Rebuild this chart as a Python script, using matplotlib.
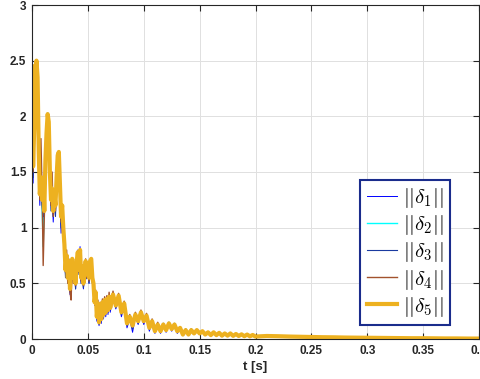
import numpy as np
import matplotlib
matplotlib.use('Agg')
import matplotlib.pyplot as plt

plt.rcParams['mathtext.fontset'] = 'cm'
plt.rcParams['font.family'] = ['Liberation Sans', 'DejaVu Sans']

# time grid: fine at start, coarser later
t = np.concatenate([np.arange(0, 0.0705, 0.001),
                    np.arange(0.0725, 0.2001, 0.0025),
                    np.arange(0.21, 0.4001, 0.01)])

tail = [0.027, 0.025, 0.022, 0.02, 0.018, 0.016, 0.015, 0.013, 0.012, 0.011,
        0.01, 0.009, 0.008, 0.007, 0.007, 0.006, 0.005, 0.005, 0.004, 0.004]

d1 = [2.2, 1.4, 1.95, 2.06, 2.3, 2.1, 1.5, 1.2, 1.5, 1.3, 1.0, 1.2, 1.65, 1.85, 1.9, 1.8, 1.4, 1.2, 1.3, 1.05,
      1.25, 1.15, 1.35, 1.55, 1.5, 1.25, 0.95, 1.1, 0.9, 0.8, 0.58, 0.7, 0.52, 0.68, 0.4, 0.55, 0.68, 0.5, 0.6, 0.45,
      0.72, 0.8, 0.6, 0.83, 0.5, 0.6, 0.45, 0.55, 0.68, 0.55, 0.62, 0.5, 0.66, 0.68, 0.5,
      0.45, 0.3, 0.38, 0.16, 0.28, 0.12, 0.26, 0.14, 0.3, 0.18, 0.3, 0.2, 0.32, 0.22, 0.34, 0.24,
      0.38, 0.27, 0.36, 0.2, 0.3, 0.1, 0.18, 0.06, 0.2, 0.13, 0.22, 0.13, 0.2, 0.07, 0.15, 0.05, 0.12, 0.05, 0.12, 0.06,
      0.13, 0.07, 0.12, 0.05, 0.09, 0.03, 0.07, 0.03, 0.07, 0.04, 0.07, 0.04, 0.065, 0.035, 0.055, 0.03, 0.055, 0.03, 0.05, 0.025,
      0.045, 0.025, 0.045, 0.024, 0.04, 0.023, 0.038, 0.022, 0.036, 0.021, 0.033, 0.02] + tail

d2 = [2.4, 1.5, 1.9, 2.3, 2.51, 2.3, 1.65, 1.3, 1.45, 1.2, 0.83, 1.2, 1.55, 1.85, 2.03, 1.9, 1.45, 1.25, 1.3, 1.15,
      1.25, 1.2, 1.4, 1.6, 1.65, 1.35, 1.05, 1.2, 0.95, 0.85, 0.6, 0.75, 0.55, 0.7, 0.45, 0.6, 0.72, 0.55, 0.65, 0.5,
      0.7, 0.76, 0.6, 0.79, 0.55, 0.65, 0.5, 0.6, 0.7, 0.58, 0.68, 0.55, 0.7, 0.72, 0.55,
      0.5, 0.33, 0.42, 0.2, 0.32, 0.15, 0.3, 0.18, 0.33, 0.22, 0.35, 0.24, 0.36, 0.26, 0.38, 0.28,
      0.41, 0.3, 0.39, 0.25, 0.33, 0.15, 0.21, 0.12, 0.23, 0.16, 0.25, 0.16, 0.22, 0.1, 0.17, 0.07, 0.14, 0.07, 0.14, 0.08,
      0.15, 0.09, 0.14, 0.07, 0.11, 0.04, 0.09, 0.04, 0.09, 0.05, 0.085, 0.05, 0.075, 0.04, 0.065, 0.035, 0.065, 0.035, 0.06, 0.03,
      0.055, 0.03, 0.05, 0.028, 0.046, 0.027, 0.043, 0.025, 0.041, 0.024, 0.037, 0.022] + tail

d3 = [2.35, 1.45, 1.8, 2.1, 2.4, 2.2, 1.6, 1.25, 1.4, 1.2, 1.1, 1.1, 1.55, 1.8, 1.9, 1.85, 1.45, 1.15, 1.3, 1.1,
      1.25, 1.1, 1.4, 1.55, 1.6, 1.3, 1.0, 1.1, 0.9, 0.75, 0.55, 0.72, 0.5, 0.68, 0.42, 0.55, 0.7, 0.52, 0.62, 0.45,
      0.68, 0.74, 0.58, 0.76, 0.5, 0.62, 0.46, 0.56, 0.68, 0.54, 0.64, 0.5, 0.66, 0.7, 0.5,
      0.47, 0.31, 0.4, 0.18, 0.3, 0.13, 0.28, 0.16, 0.31, 0.2, 0.33, 0.22, 0.34, 0.24, 0.36, 0.26,
      0.39, 0.28, 0.37, 0.22, 0.31, 0.12, 0.19, 0.09, 0.21, 0.14, 0.23, 0.15, 0.2, 0.09, 0.15, 0.06, 0.12, 0.06, 0.12, 0.07,
      0.13, 0.08, 0.12, 0.06, 0.095, 0.035, 0.075, 0.035, 0.075, 0.045, 0.075, 0.045, 0.065, 0.038, 0.058, 0.032, 0.058, 0.032, 0.052, 0.028,
      0.048, 0.028, 0.047, 0.026, 0.043, 0.025, 0.04, 0.024, 0.038, 0.022, 0.035, 0.021] + tail

d4 = [2.3, 1.5, 1.85, 2.2, 2.4, 2.2, 1.6, 1.25, 1.8, 1.35, 0.66, 1.1, 1.5, 1.8, 1.95, 1.85, 1.45, 1.2, 1.5, 1.1,
      1.25, 1.15, 1.4, 1.6, 1.6, 1.35, 1.05, 1.15, 0.95, 0.8, 0.6, 0.8, 0.5, 0.72, 0.42, 0.35, 0.7, 0.5, 0.62, 0.48,
      0.68, 0.75, 0.6, 0.78, 0.52, 0.62, 0.48, 0.58, 0.72, 0.55, 0.65, 0.52, 0.68, 0.7, 0.52,
      0.52, 0.36, 0.44, 0.22, 0.35, 0.14, 0.33, 0.21, 0.36, 0.25, 0.38, 0.27, 0.39, 0.29, 0.42, 0.31,
      0.43, 0.31, 0.41, 0.26, 0.34, 0.16, 0.22, 0.13, 0.24, 0.17, 0.26, 0.17, 0.23, 0.11, 0.18, 0.08, 0.15, 0.08, 0.14, 0.09,
      0.15, 0.1, 0.14, 0.08, 0.11, 0.05, 0.09, 0.05, 0.09, 0.055, 0.085, 0.055, 0.075, 0.045, 0.065, 0.04, 0.065, 0.04, 0.06, 0.035,
      0.055, 0.032, 0.052, 0.03, 0.048, 0.028, 0.045, 0.026, 0.042, 0.025, 0.038, 0.023] + tail

d5 = [2.45, 1.55, 1.9, 2.3, 2.5, 2.35, 1.7, 1.3, 1.45, 1.25, 1.45, 1.15, 1.6, 1.85, 2.02, 1.95, 1.5, 1.25, 1.35, 1.15,
      1.3, 1.2, 1.45, 1.65, 1.68, 1.4, 1.1, 1.2, 1.0, 0.85, 0.62, 0.75, 0.55, 0.7, 0.45, 0.6, 0.72, 0.55, 0.65, 0.5,
      0.7, 0.78, 0.62, 0.8, 0.55, 0.65, 0.5, 0.6, 0.7, 0.58, 0.68, 0.55, 0.7, 0.72, 0.55,
      0.5, 0.33, 0.42, 0.2, 0.32, 0.15, 0.3, 0.18, 0.33, 0.22, 0.35, 0.24, 0.36, 0.26, 0.38, 0.28,
      0.4, 0.3, 0.39, 0.24, 0.32, 0.14, 0.2, 0.12, 0.22, 0.16, 0.24, 0.16, 0.21, 0.1, 0.16, 0.07, 0.13, 0.07, 0.13, 0.08,
      0.14, 0.09, 0.13, 0.07, 0.1, 0.04, 0.08, 0.04, 0.08, 0.05, 0.08, 0.05, 0.07, 0.04, 0.06, 0.035, 0.06, 0.035, 0.055, 0.03,
      0.05, 0.03, 0.05, 0.028, 0.045, 0.027, 0.042, 0.025, 0.04, 0.024, 0.036, 0.022] + tail

labels = [r'$||\delta_1||$', r'$||\delta_2||$', r'$||\delta_3||$', r'$||\delta_4||$', r'$||\delta_5||$']
colors = ['#0000ff', '#00ffff', '#1a3aa0', '#a2522d', '#edb120']
widths = [0.7, 1.0, 0.8, 1.0, 3.0]

fig = plt.figure(figsize=(4.8, 3.79), dpi=100)
ax = fig.add_axes([32 / 480, 1 - 339 / 379, 447 / 480, 334 / 379])

for y, lab, c, w in zip([d1, d2, d3, d4, d5], labels, colors, widths):
    ax.plot(t, y, color=c, linewidth=w, label=lab)

ax.set_xlim(0, 0.4)
ax.set_ylim(0, 3)
ax.set_xticks(np.arange(0, 0.401, 0.05))
ax.set_xticklabels(['0', '0.05', '0.1', '0.15', '0.2', '0.25', '0.3', '0.35', '0.4'])
ax.set_yticks(np.arange(0, 3.01, 0.5))
ax.set_yticklabels(['0', '0.5', '1', '1.5', '2', '2.5', '3'])
ax.tick_params(direction='in', top=True, right=True, length=4, width=0.8,
               labelsize=8.5, colors='#262626', pad=4)
for lbl in ax.get_xticklabels() + ax.get_yticklabels():
    lbl.set_fontweight('bold')
for s in ax.spines.values():
    s.set_color('#262626')
    s.set_linewidth(0.8)
ax.grid(True, color='#e0e0e0', linewidth=0.7)
ax.set_axisbelow(True)
ax.set_xlabel('t [s]', fontsize=9.5, fontweight='bold', color='#262626', labelpad=3)

leg = ax.legend(loc='lower right', bbox_to_anchor=(0.935, 0.042), fontsize=15,
                fancybox=False, framealpha=1, edgecolor='#1a2c8c',
                handlelength=1.45, handletextpad=0.3, labelspacing=0.15,
                borderpad=0.3, borderaxespad=0)
leg.get_frame().set_linewidth(1.5)

fig.savefig('out.png', dpi=100)
